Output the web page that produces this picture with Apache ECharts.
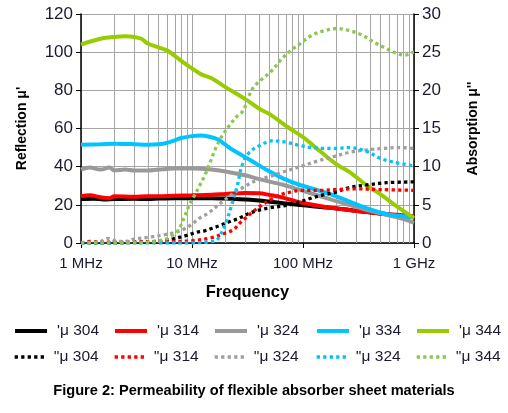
<!DOCTYPE html>
<html>
<head>
<meta charset="utf-8">
<script src="https://cdn.jsdelivr.net/npm/echarts@6/dist/echarts.min.js"></script>
<style>
html,body{margin:0;padding:0;background:#fff;}
#chart{width:508px;height:413px;}
</style>
</head>
<body>
<div id="chart"></div>
<script>
// Frequency in MHz
var muRe304 = [[1,23],[1.3,23.2],[1.6,22.8],[2,23],[3,23.2],[4,23],[5,23.3],[7,23.5],[10,23.5],[15,23.5],[20,23.3],[30,22.8],[40,22.3],[66,20.9],[94,19.9],[186,18.3],[378,16.2],[748,14.3],[1000,13.6]];
var muRe314 = [[1,24.5],[1.2,25],[1.5,24],[1.8,23.5],[2,24.5],[3,24.3],[4,24.5],[5,24.5],[7,24.8],[10,25],[15,25.3],[20,25.7],[30,26.2],[40,26.1],[50,25.2],[66,23.8],[94,21.3],[130,19.8],[186,18.3],[280,17],[378,16.2],[550,15.3],[748,14.7],[1000,14]];
var muRe324 = [[1,38.5],[1.2,39.5],[1.5,38.5],[1.8,39.5],[2,38],[2.5,38.5],[3,38],[4,38],[5,38.5],[7,39],[10,39],[15,38.5],[20,37.5],[30,35.5],[40,33.5],[66,30.5],[94,27.8],[186,22.5],[378,17.3],[748,13],[1000,10.6]];
var muRe334 = [[1,51.5],[1.5,51.7],[2,52],[3,51.8],[4,51.5],[5,51.7],[6,52.5],[7,53.8],[8,55],[10,56],[12,56.3],[14,55.8],[16.8,54.5],[20,51.5],[23.4,48.7],[33.4,43.5],[47.3,38.2],[66,33.9],[94,30.4],[133,27.8],[186,25.1],[265,21.6],[378,18.2],[527,15.6],[748,14.1],[1000,13.5]];
var muRe344 = [[1,104],[1.5,107],[2,108],[2.5,108.3],[3,108],[3.5,107],[4,104.5],[5,102.5],[6,100.8],[7,98],[8,95.5],[10,91.5],[12,88.5],[15,86.3],[20,81.7],[30,75.5],[40,70.5],[50,67.5],[76,60],[100,55.5],[150,47],[203,41],[265,37],[378,30],[500,25.5],[670,20],[1000,13]];

var muIm304 = [[1,0],[2,0],[3,0.1],[5,0.2],[6,0.4],[7,0.6],[8,0.8],[9,1.0],[11,1.4],[13,1.6],[15,1.9],[18,2.3],[21,2.7],[24,3.0],[28,3.4],[33,3.9],[40,4.3],[50,4.6],[76,5.0],[94,5.4],[120,5.9],[152,6.3],[200,6.7],[265,7.3],[375,7.6],[565,7.9],[1000,8.0]];
var muIm314 = [[1,0],[1.2,0.2],[2,0.1],[3,0.1],[5,0.2],[7,0.2],[10,0.3],[15,0.7],[20,1.3],[24,1.8],[26,2.4],[30,3.2],[34,3.9],[41,4.8],[50,5.6],[62,6.3],[79,6.7],[94,6.9],[150,6.9],[200,7.0],[300,7.1],[500,7.0],[1000,6.9]];
var muIm324 = [[1,0],[1.5,0.2],[1.75,0.6],[2,0.3],[2.5,0.2],[3,0.5],[4.3,0.8],[5.7,1.1],[7,1.4],[8.7,1.9],[10.3,2.6],[11.8,3.3],[14,3.9],[18,5.2],[23.6,6.5],[29,7.3],[38,8.2],[50,8.7],[66,9.3],[94,10],[132,10.7],[187,11.3],[265,11.9],[375,12.2],[527,12.4],[741,12.5],[1000,12.4]];
var muIm334 = [[1,0],[2,0],[5,0],[10,0],[15,0.2],[17,0.5],[20,2.5],[23,5.2],[25.6,7.5],[28,10],[32,11.7],[40,12.7],[54,13.4],[70,13.2],[92,12.8],[120,12.5],[155,12.4],[200,12.4],[265,12.5],[375,12],[495,11.1],[650,10.6],[1000,10.1]];
var muIm344 = [[1,0],[3,0],[5,0.3],[6,0.6],[7,1.2],[7.8,2.1],[8.7,3.7],[9.6,5.2],[10.6,6.3],[11.8,7.6],[13,8.8],[14.5,10.5],[16.1,12.2],[18.1,13.7],[21.2,15.2],[25,16.5],[28.8,17.3],[35,20.2],[43,21.5],[52.6,22.6],[63,24],[77.5,25.2],[96,26.2],[120,27.2],[155,27.8],[202,28.1],[265,27.8],[345,27.2],[436,26.3],[556,25.5],[713,24.8],[829,24.6],[940,24.9],[1000,25]];

var seriesNamesRe = ["'μ 304", "'μ 314", "'μ 324", "'μ 334", "'μ 344"];
var seriesNamesIm = ["''μ 304", "''μ 314", "''μ 324", "''μ 324\u200b", "''μ 344"];
var xTickLabels = {1: '1 MHz', 10: '10 MHz', 100: '100 MHz', 1000: '1 GHz'};
var yLeftTicks = {min: 0, max: 120, step: 20};
var yRightTicks = {min: 0, max: 30, step: 5};

var minorGrid = [];
[1, 10, 100].forEach(function (d) { for (var m = 2; m <= 9; m++) minorGrid.push({xAxis: d * m}); });

var colorsRe = ['#000000', '#ff0000', '#999999', '#00c4ff', '#99cc00'];
var colorsIm = ['#000000', '#ff0000', '#a0a0a0', '#00c4ff', '#8cc850'];
var dataRe = [muRe304, muRe314, muRe324, muRe334, muRe344];
var dataIm = [muIm304, muIm314, muIm324, muIm334, muIm344];

var FONT = "'Liberation Sans', Arial, sans-serif";
var TXT = '#1a1a2e';

var series = [{
  type: 'line', data: [], silent: true, z: 1,
  markLine: {
    silent: true, symbol: ['none', 'none'], z: 1, animation: false,
    label: {show: false},
    lineStyle: {color: '#a6a6a6', width: 1, type: 'solid'},
    emphasis: {disabled: true},
    data: minorGrid
  }
}];
dataRe.forEach(function (d, i) {
  series.push({
    name: seriesNamesRe[i], type: 'line', data: d, yAxisIndex: 0,
    symbol: 'none', smooth: 0.35, z: 3,
    lineStyle: {color: colorsRe[i], width: 4}, itemStyle: {color: colorsRe[i]}
  });
});
dataIm.forEach(function (d, i) {
  series.push({
    name: seriesNamesIm[i], type: 'line', data: d, yAxisIndex: 1,
    symbol: 'none', smooth: 0.35, z: 4,
    lineStyle: {color: colorsIm[i], width: 3.3, type: [3.3, 3.2]}, itemStyle: {color: colorsIm[i]}
  });
});

var legendLefts = [8, 108, 208, 310, 410];
var legends = [];
function addLegend(n, left, top, pad, lw) {
  legends.push({data: [n], left: left, top: top, itemWidth: 32, itemHeight: 14, selectedMode: false,
    itemStyle: {opacity: 0},
    lineStyle: {width: lw},
    textStyle: {fontFamily: FONT, fontSize: 15.5, color: TXT, padding: [0, 0, 0, pad]}});
}
seriesNamesRe.forEach(function (n, i) { addLegend(n, legendLefts[i], 318, 5, 4); });
seriesNamesIm.forEach(function (n, i) { addLegend(n, legendLefts[i], 344, 2, 3.3); });

var chart = echarts.init(document.getElementById('chart'), null, {renderer: 'canvas'});
chart.setOption({
  animation: false,
  backgroundColor: '#ffffff',
  grid: {left: 81, right: 94, top: 14, bottom: 170, containLabel: false},
  legend: legends,
  xAxis: {
    type: 'log', logBase: 10, min: 1, max: 1000,
    name: 'Frequency', nameLocation: 'middle', nameGap: 41,
    nameTextStyle: {fontFamily: FONT, fontWeight: 'bold', fontSize: 16.5, color: '#000'},
    axisLine: {show: true, onZero: false, lineStyle: {color: '#000', width: 1.5}},
    axisTick: {show: true, length: 5, lineStyle: {color: '#000'}},
    axisLabel: {margin: 13, fontFamily: FONT, fontSize: 15, color: TXT,
      formatter: function (v) { return xTickLabels[Math.round(v)] || ''; }},
    splitLine: {show: true, lineStyle: {color: '#a6a6a6', width: 1}}
  },
  yAxis: [{
    type: 'value', min: yLeftTicks.min, max: yLeftTicks.max, interval: yLeftTicks.step,
    name: "Reflection μ'", nameLocation: 'middle', nameGap: 52, nameRotate: 90,
    nameTextStyle: {fontFamily: FONT, fontWeight: 'bold', fontSize: 14, color: '#000'},
    axisLine: {show: true, lineStyle: {color: '#000', width: 1.5}},
    axisTick: {show: true, length: 5, lineStyle: {color: '#000'}},
    axisLabel: {margin: 8, fontFamily: FONT, fontSize: 17, color: TXT},
    splitLine: {show: true, lineStyle: {color: '#a6a6a6', width: 1}}
  }, {
    type: 'value', position: 'right', min: yRightTicks.min, max: yRightTicks.max, interval: yRightTicks.step,
    name: "Absorption μ''", nameLocation: 'middle', nameGap: 52, nameRotate: 90,
    nameTextStyle: {fontFamily: FONT, fontWeight: 'bold', fontSize: 14, color: '#000'},
    axisLine: {show: true, lineStyle: {color: '#000', width: 1.5}},
    axisTick: {show: true, length: 5, lineStyle: {color: '#000'}},
    axisLabel: {margin: 8, fontFamily: FONT, fontSize: 17, color: TXT},
    splitLine: {show: false}
  }],
  graphic: [{
    type: 'text', left: 'center', top: 383,
    style: {text: 'Figure 2: Permeability of flexible absorber sheet materials',
      font: 'bold 14.6px ' + FONT, fill: '#000'}
  }],
  series: series
});
</script>
</body>
</html>
